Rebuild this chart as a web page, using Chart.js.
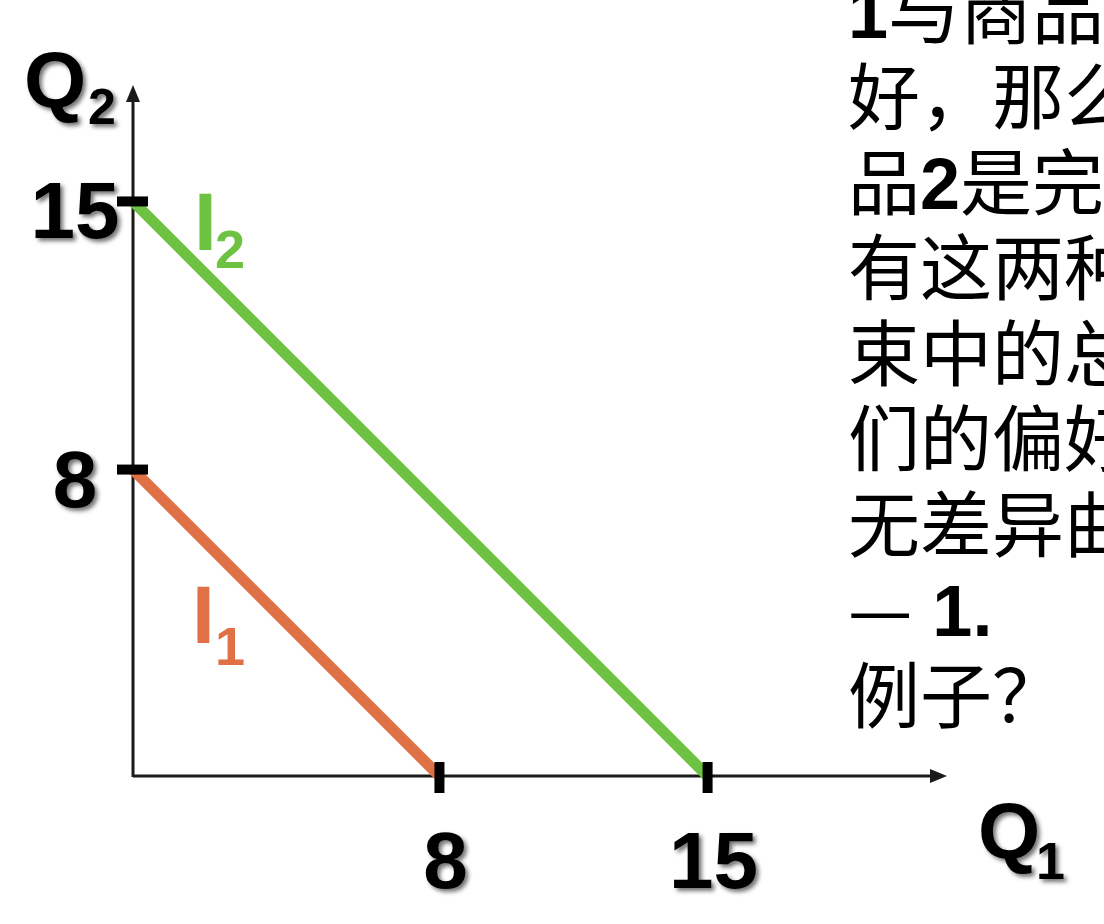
<!DOCTYPE html>
<html>
<head>
<meta charset="utf-8">
<script src="https://cdn.jsdelivr.net/npm/chart.js@4.4.1/dist/chart.umd.min.js"></script>
<style>
html,body{margin:0;padding:0;background:#fff;}
#wrap{position:relative;width:1104px;height:924px;}
canvas{display:block;}
</style>
</head>
<body>
<div id="wrap"><canvas id="c" width="1104" height="924"></canvas></div>
<script>
// ---- data ----
const i1Q1 = [0, 8];
const i1Q2 = [8, 0];
const i2Q1 = [0, 15];
const i2Q2 = [15, 0];
const xTickValues = [8, 15];
const xTickLabels = ['8', '15'];
const yTickValues = [15, 8];
const yTickLabels = ['15', '8'];
const axisMaxQ1 = 21.25;
const axisMaxQ2 = 18.04;
const curveLabels = ['I', 'I'];
const curveSubs = ['1', '2'];
const axisTitles = ['Q', 'Q'];
const axisSubs = ['1', '2'];
// right-hand text block (clipped by the page edge): runs of [text, isLatinBold]
const textLines = [
  [['1', true], ['与商品', false]],
  [['好，那么', false]],
  [['品', false], ['2', true], ['是完', false]],
  [['有这两种', false]],
  [['束中的总', false]],
  [['们的偏好', false]],
  [['无差异曲', false]],
  [['—', false], [' 1.', true]],
  [['例子？', false]]
];

const ORANGE = '#E07046';
const GREEN = '#6EC241';
const LATIN = '"Liberation Sans", Arial, sans-serif';
const CJK = '"Noto Sans CJK SC", sans-serif';

function toPts(xs, ys){ return xs.map((x,i)=>({x:x, y:ys[i]})); }

function shadowOn(ctx){
  ctx.shadowColor = 'rgba(0,0,0,0.55)';
  ctx.shadowBlur = 4;
  ctx.shadowOffsetX = 3;
  ctx.shadowOffsetY = 3;
}
function shadowOff(ctx){
  ctx.shadowColor = 'rgba(0,0,0,0)';
  ctx.shadowBlur = 0; ctx.shadowOffsetX = 0; ctx.shadowOffsetY = 0;
}

const axesPlugin = {
  id: 'axesPlugin',
  beforeDatasetsDraw(chart){
    const ctx = chart.ctx, xs = chart.scales.x, ys = chart.scales.y;
    const x0 = xs.getPixelForValue(0), y0 = ys.getPixelForValue(0);
    const xEnd = xs.getPixelForValue(axisMaxQ1), yEnd = ys.getPixelForValue(axisMaxQ2);
    ctx.save();
    ctx.strokeStyle = '#1a1a1a';
    ctx.fillStyle = '#1a1a1a';
    ctx.lineWidth = 3;
    ctx.beginPath();
    ctx.moveTo(x0, y0); ctx.lineTo(xEnd - 12, y0);
    ctx.moveTo(x0, y0 + 1); ctx.lineTo(x0, yEnd + 12);
    ctx.stroke();
    // arrowheads
    ctx.beginPath();
    ctx.moveTo(xEnd, y0); ctx.lineTo(xEnd - 17, y0 - 7); ctx.lineTo(xEnd - 17, y0 + 7); ctx.closePath();
    ctx.fill();
    ctx.beginPath();
    ctx.moveTo(x0, yEnd); ctx.lineTo(x0 - 7, yEnd + 17); ctx.lineTo(x0 + 7, yEnd + 17); ctx.closePath();
    ctx.fill();
    ctx.restore();
  },
  afterDatasetsDraw(chart){
    const ctx = chart.ctx, xs = chart.scales.x, ys = chart.scales.y;
    const x0 = xs.getPixelForValue(0), y0 = ys.getPixelForValue(0);
    ctx.save();
    ctx.fillStyle = '#000';
    // tick marks
    xTickValues.forEach(v=>{
      const px = xs.getPixelForValue(v);
      ctx.fillRect(px - 5, y0 - 14, 10, 31);
    });
    yTickValues.forEach(v=>{
      const py = ys.getPixelForValue(v);
      ctx.fillRect(x0 - 16, py - 5, 31, 10);
    });
    // tick labels
    shadowOn(ctx);
    ctx.font = 'bold 80px ' + LATIN;
    ctx.textBaseline = 'alphabetic';
    ctx.textAlign = 'center';
    xTickValues.forEach((v,i)=>{
      const px = xs.getPixelForValue(v);
      ctx.fillText(xTickLabels[i], px + 6, y0 + 112);
    });
    yTickValues.forEach((v,i)=>{
      const py = ys.getPixelForValue(v);
      ctx.fillText(yTickLabels[i], x0 - 58, py + 37);
    });
    // axis titles
    ctx.textAlign = 'left';
    ctx.font = 'bold 80px ' + LATIN;
    ctx.fillText(axisTitles[0], 978, 858);
    ctx.fillText(axisTitles[1], 24, 107);
    ctx.font = 'bold 52px ' + LATIN;
    ctx.fillText(axisSubs[0], 1036, 879);
    ctx.font = 'bold 50px ' + LATIN;
    ctx.fillText(axisSubs[1], 88, 124);
    shadowOff(ctx);
    // curve labels
    ctx.font = 'bold 82px ' + LATIN;
    ctx.fillStyle = ORANGE;
    ctx.fillText(curveLabels[0], 192, 643);
    ctx.fillStyle = GREEN;
    ctx.fillText(curveLabels[1], 194, 250);
    ctx.font = 'bold 54px ' + LATIN;
    ctx.fillStyle = ORANGE;
    ctx.fillText(curveSubs[0], 215, 665);
    ctx.fillStyle = GREEN;
    ctx.fillText(curveSubs[1], 215, 268);
    // right-hand text block
    ctx.fillStyle = '#000';
    const lineCenters0 = 11.5, pitch = 85.5;
    textLines.forEach((runs, li)=>{
      let x = 848;
      const base = lineCenters0 + pitch * li + 26;
      runs.forEach(([t, latin])=>{
        ctx.font = latin ? ('bold 72px ' + LATIN) : ('72px ' + CJK);
        ctx.fillText(t, x, base);
        x += ctx.measureText(t).width;
      });
    });
    ctx.restore();
  }
};

new Chart(document.getElementById('c'), {
  type: 'scatter',
  data: {
    datasets: [
      { label: 'I1', data: toPts(i1Q1, i1Q2), showLine: true, borderColor: ORANGE, borderWidth: 11, pointRadius: 0, borderCapStyle: 'butt', clip: false },
      { label: 'I2', data: toPts(i2Q1, i2Q2), showLine: true, borderColor: GREEN, borderWidth: 11, pointRadius: 0, borderCapStyle: 'butt', clip: false }
    ]
  },
  options: {
    responsive: false,
    animation: false,
    events: [],
    layout: { padding: { left: 133, right: 157, top: 85, bottom: 148 } },
    plugins: { legend: { display: false }, tooltip: { enabled: false }, title: { display: false } },
    scales: {
      x: { type: 'linear', min: 0, max: axisMaxQ1, display: false },
      y: { type: 'linear', min: 0, max: axisMaxQ2, display: false }
    }
  },
  plugins: [axesPlugin]
});
</script>
</body>
</html>
